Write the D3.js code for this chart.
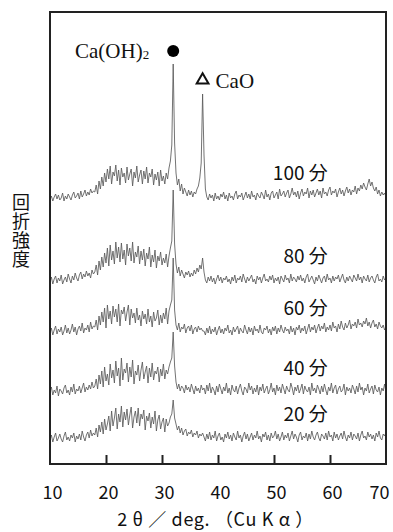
<!DOCTYPE html>
<html>
<head>
<meta charset="utf-8">
<script src="https://cdn.jsdelivr.net/npm/d3@7"></script>
<style>
  body { margin: 0; background: #fff; }
  svg { display: block; }
</style>
</head>
<body>
<div id="chart"></div>
<script>
// 2θ grid of the scan (deg.)
const twoThetaStart = 10;
const twoThetaStep = 0.25;
const xTicks = [10, 20, 30, 40, 50, 60, 70];

const times = ["20 分", "40 分", "60 分", "80 分", "100 分"];
const offsets = [20, 66, 126, 178, 261];

// intensities, one value per 0.25 deg. step from 10 to 70
const int20 = [
  4,9,2,7,11,3,6,10,5,2,8,12,4,7,3,9,6,11,2,8,
  5,10,4,13,7,3,9,12,6,14,8,11,
  9,16,7,19,12,22,10,25,14,20,
  28,13,33,18,26,36,15,30,22,38,
  17,32,24,35,19,29,37,16,27,33,
  21,36,18,30,25,34,14,28,23,31,
  16,27,20,33,13,24,29,15,22,26,
  12,25,18,21,27,30,
  44,26,
  20,14,18,11,16,9,13,15,8,12,10,14,7,11,9,13,6,10,8,
  11,
  7,3,10,5,12,4,9,6,13,3,8,11,4,7,2,10,6,12,5,9,
  3,11,7,4,13,6,9,2,8,12,5,10,3,7,11,4,9,6,13,5,
  8,2,10,7,12,4,9,3,11,6,8,13,5,10,3,7,12,4,9,6,
  11,3,8,13,5,10,7,2,9,12,4,8,6,11,3,10,5,13,7,4,
  9,12,6,3,10,8,5,11,4,13,7,9,3,12,6,10,4,8,11,5,
  13,7,3,9,6,12,4,10,8,5,11,3,9,13,6,8,4,12,7,10,
  5,9,3,11,7,13,6,4,10,8,12
];
const int40 = [
  6,11,3,8,5,12,2,9,7,4,10,13,5,8,3,11,6,14,4,9,
  7,12,5,10,15,6,11,8,13,9,16,10,
  12,19,9,23,14,27,11,31,17,24,
  13,34,20,28,15,37,22,30,12,40,
  18,29,25,35,16,31,21,38,14,27,
  23,33,17,28,36,19,26,32,15,30,
  21,35,18,27,24,31,16,29,22,34,
  19,28,24,31,36,40,
  66,32,
  16,9,14,7,12,10,5,13,8,11,6,14,9,4,12,7,10,5,13,
  8,
  10,4,13,7,15,5,11,8,3,12,6,14,9,4,11,7,15,5,10,3,
  13,8,6,12,4,10,14,7,3,11,9,5,15,8,12,4,10,6,13,3,
  11,7,14,5,9,12,4,8,15,6,10,3,13,7,11,5,14,9,4,12,
  8,6,15,10,3,11,7,13,5,9,14,4,12,8,6,11,3,15,7,10,
  5,13,9,4,12,6,14,8,3,11,7,15,5,10,13,4,9,12,6,8,
  14,3,11,7,10,5,13,9,4,12,6,15,8,11,3,10,7,14,5,9,
  12,4,13,8,6,11,3,10,7,14,5
];
const int60 = [
  5,10,3,8,12,4,9,6,11,3,7,13,5,10,4,8,14,6,11,3,
  9,12,7,15,5,10,8,13,6,16,9,12,
  11,18,8,22,13,26,16,30,10,33,
  19,27,14,32,21,29,16,34,12,28,
  24,31,17,26,33,13,29,20,25,15,
  30,18,23,12,27,19,24,14,29,16,
  22,11,26,17,20,28,13,23,15,25,
  19,30,14,27,33,38,
  80,28,
  13,8,15,6,11,9,14,5,10,12,7,13,4,9,11,6,12,8,10,
  7,
  7,3,10,5,12,4,9,6,11,3,8,12,5,9,4,10,7,13,5,8,
  3,11,6,9,12,4,10,7,5,13,8,4,11,6,10,3,12,7,9,5,
  13,6,4,10,8,12,5,9,3,11,7,12,4,10,6,13,8,5,11,7,
  9,4,12,6,10,3,11,8,13,5,10,7,12,4,9,14,6,11,8,13,
  5,10,14,7,12,9,15,6,11,8,13,7,16,10,12,6,14,9,17,11,
  8,15,10,13,18,9,14,12,16,10,19,13,15,11,17,14,20,12,16,10,
  15,18,11,14,9,16,12,10,13,8,11
];
const int80 = [
  4,9,2,7,10,3,8,5,11,2,6,9,4,12,7,3,10,6,13,8,
  5,11,14,7,12,9,15,10,13,8,16,12,
  14,21,11,25,16,29,19,33,23,38,
  20,41,26,35,22,44,28,39,24,43,
  27,36,21,42,30,38,25,44,23,34,
  29,40,22,35,26,37,20,33,27,39,
  19,31,24,36,18,30,25,34,21,28,
  23,32,19,30,38,45,
  96,42,
  22,13,19,10,16,12,8,14,11,15,9,13,10,16,12,18,14,21,17,
  28,
  14,6,3,9,5,10,4,8,2,7,11,5,9,3,8,6,10,4,7,2,
  9,5,11,3,8,6,10,4,12,7,3,9,5,8,11,4,7,2,10,6,
  9,3,8,12,5,7,4,10,6,11,3,8,5,9,2,10,7,4,11,6,
  8,3,12,5,9,7,4,10,6,11,5,8,3,9,12,4,7,10,6,2,
  9,5,11,7,3,8,10,4,12,6,8,3,10,5,9,7,11,4,8,12,
  6,3,9,5,10,7,4,11,8,5,12,6,9,3,10,7,5,11,4,8,
  10,6,3,9,12,5,7,4,10,6,8
];
const int100 = [
  3,7,2,6,9,4,8,3,5,10,2,7,4,9,6,3,8,11,5,7,
  10,4,12,6,9,13,7,11,8,14,10,12,
  11,18,9,22,14,26,17,30,21,34,
  24,37,19,31,27,38,22,33,18,35,
  26,30,20,36,23,29,34,17,31,25,
  37,21,28,33,19,32,24,36,20,30,
  26,34,18,29,23,31,17,33,22,27,
  19,30,24,35,42,58,
  139,60,
  30,18,24,12,19,9,15,11,7,13,8,12,6,11,9,14,17,25,40,
  109,
  48,14,6,3,9,5,8,2,10,4,7,3,9,6,11,4,8,2,10,5,
  7,3,9,12,4,8,6,10,3,7,11,5,9,4,12,6,8,3,10,7,
  5,11,8,4,13,6,9,3,10,12,5,8,11,4,14,7,9,12,6,10,
  13,5,9,15,8,11,6,12,4,10,14,7,11,9,15,5,12,8,13,6,
  10,14,8,12,5,15,9,11,7,13,16,8,12,10,14,6,11,15,9,13,
  7,12,16,10,14,8,13,11,17,9,15,12,18,14,20,16,13,19,24,17,
  21,15,12,16,9,13,7,11,8,10,6
];
const patterns = [int20, int40, int60, int80, int100];

const phaseNames = ["Ca(OH)", "CaO"];
const phasePeaks = [32.0, 37.25];

const width = 393, height = 532;
const margin = { top: 12, right: 7, bottom: 68, left: 50 };
const jpFont = "'Noto Sans CJK JP', sans-serif";

const svg = d3.select("#chart").append("svg")
  .attr("width", width)
  .attr("height", height);

const x = d3.scaleLinear()
  .domain([10, 70])
  .range([margin.left, width - margin.right]);

const y = d3.scaleLinear()
  .domain([0, 452])
  .range([height - margin.bottom, margin.top]);

const line = d3.line()
  .x(d => x(d[0]))
  .y(d => y(d[1]));

// traces
patterns.forEach((vals, i) => {
  const pts = vals.map((v, k) => [twoThetaStart + k * twoThetaStep, v + offsets[i]]);
  svg.append("path")
    .datum(pts)
    .attr("fill", "none")
    .attr("stroke", "#5a5a5a")
    .attr("stroke-width", 0.85)
    .attr("stroke-linejoin", "round")
    .attr("d", line);

  svg.append("text")
    .attr("x", x(59.6))
    .attr("y", y(offsets[i]) - 23)
    .attr("text-anchor", "end")
    .attr("font-family", jpFont)
    .attr("font-size", 19)
    .attr("fill", "#111")
    .text(times[i]);
});

// frame
svg.append("rect")
  .attr("x", margin.left)
  .attr("y", margin.top)
  .attr("width", width - margin.left - margin.right)
  .attr("height", height - margin.top - margin.bottom)
  .attr("fill", "none")
  .attr("stroke", "#222")
  .attr("stroke-width", 2);

// bottom axis, ticks pointing inward
const xAxis = svg.append("g")
  .attr("transform", `translate(0,${height - margin.bottom})`)
  .call(d3.axisBottom(x).tickValues(xTicks).tickSize(-9).tickPadding(22).tickFormat(d3.format("d")));
xAxis.select(".domain").remove();
xAxis.selectAll(".tick line")
  .attr("stroke", "#222")
  .attr("stroke-width", 2)
  .attr("opacity", (d, i) => (i === 0 || i === xTicks.length - 1) ? 0 : 1);
xAxis.selectAll(".tick text")
  .attr("font-family", jpFont)
  .attr("font-size", 18)
  .attr("fill", "#111")
  .attr("dx", (d, i) => i === xTicks.length - 1 ? -7 : 2);

svg.append("text")
  .attr("x", x(39.5))
  .attr("y", height - 6)
  .attr("text-anchor", "middle")
  .attr("textLength", 196)
  .attr("lengthAdjust", "spacing")
  .attr("font-family", jpFont)
  .attr("font-size", 18)
  .attr("fill", "#111")
  .text("2 θ ／ deg. （Cu K α ）");

// vertical y label
svg.append("text")
  .attr("x", 21)
  .attr("y", 193)
  .style("writing-mode", "vertical-rl")
  .attr("letter-spacing", 1)
  .attr("font-family", jpFont)
  .attr("font-size", 18)
  .attr("fill", "#111")
  .text("回折強度");

// phase markers above the peaks
const top100 = offsets[4];
const k0 = Math.round((phasePeaks[0] - twoThetaStart) / twoThetaStep);
const k1 = Math.round((phasePeaks[1] - twoThetaStart) / twoThetaStep);
const yCirc = y(top100 + int100[k0]) - 13;
const yTri = y(top100 + int100[k1]) - 14;

svg.append("circle")
  .attr("cx", x(phasePeaks[0]))
  .attr("cy", yCirc)
  .attr("r", 6)
  .attr("fill", "#000");

const t1 = svg.append("text")
  .attr("x", x(phasePeaks[0]) - 24)
  .attr("y", yCirc + 7)
  .attr("text-anchor", "end")
  .attr("font-family", "'Liberation Serif', serif")
  .attr("font-size", 21)
  .attr("fill", "#111");
t1.append("tspan").text(phaseNames[0]);
t1.append("tspan").attr("font-size", 13).attr("dy", 1).text("2");

svg.append("path")
  .attr("d", d3.symbol().type(d3.symbolTriangle).size(60)())
  .attr("transform", `translate(${x(phasePeaks[1])},${yTri})`)
  .attr("fill", "none")
  .attr("stroke", "#111")
  .attr("stroke-width", 2);

svg.append("text")
  .attr("x", x(phasePeaks[1]) + 13)
  .attr("y", yTri + 8)
  .attr("font-family", "'Liberation Serif', serif")
  .attr("font-size", 21)
  .attr("fill", "#111")
  .text(phaseNames[1]);
</script>
</body>
</html>
